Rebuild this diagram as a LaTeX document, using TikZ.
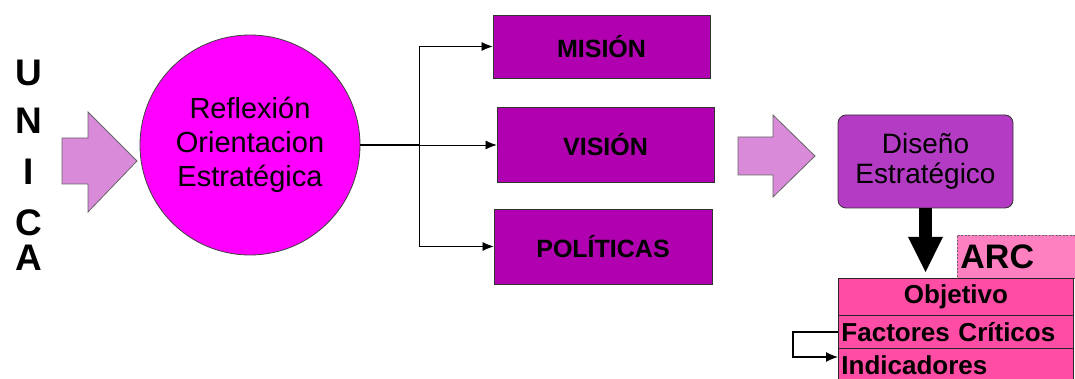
\documentclass[tikz,border=0pt]{standalone}
\usepackage{fontspec}
\setmainfont{Liberation Sans}
\usetikzlibrary{arrows.meta}
\definecolor{blockarrow}{HTML}{D98AD9}
\definecolor{circfill}{HTML}{FF00FF}
\definecolor{boxfill}{HTML}{B000B0}
\definecolor{disfill}{HTML}{B43CC4}
\definecolor{arcfill}{HTML}{FF80C0}
\definecolor{tabfill}{HTML}{FF4DA6}
\begin{document}
\begin{tikzpicture}[x=1pt,y=-1pt,
  letter/.style={font=\fontsize{37}{37}\selectfont\bfseries, inner sep=0pt},
  blockarr/.style={fill=blockarrow, draw=black!60, line width=0.8pt},
  purplebox/.style={draw=black!80, line width=0.8pt, fill=boxfill, font=\fontsize{25}{30}\selectfont\bfseries, inner sep=0pt},
  conn/.style={line width=0.7pt, -{Latex[length=11pt,width=9pt]}},
  rowbox/.style={draw=black!85, line width=0.9pt, fill=tabfill, anchor=north west, minimum width=235pt, inner xsep=3pt, inner ysep=0pt, font=\fontsize{26}{28}\selectfont\bfseries}
]
\useasboundingbox (0,0) rectangle (1075,379);
% UNICA
\node[letter] (lu) at (29,73) {U};
\node[letter] (ln) at (29,121) {N};
\node[letter] (li) at (29,172) {I};
\node[letter] (lc) at (29,223) {C};
\node[letter] (la) at (29,258) {A};
% left block arrow
\draw[blockarr] (62,138) -- (88,138) -- (88,112) -- (137,161) -- (88,212) -- (88,184) -- (62,184) -- cycle;
% circle
\node[circle, minimum size=220pt, inner sep=0pt, fill=circfill, draw=black!75, line width=0.8pt,
      align=center, font=\fontsize{29}{34}\selectfont] (refl) at (250,145)
      {Reflexión\\Orientacion\\Estratégica};
% boxes
\node[purplebox, minimum width=217pt, minimum height=63pt] (mision) at (601.5,46.5) {MISIÓN};
\node[purplebox, minimum width=217pt, minimum height=75pt] (vision) at (605.5,144.5) {VISIÓN};
\node[purplebox, minimum width=218pt, minimum height=75pt] (politicas) at (603,246.5) {POLÍTICAS};
% connectors
\coordinate (junc) at (419,145);
\draw[line width=1.3pt] (refl.east) -- (junc);
\draw[conn] (junc) -- (vision.west |- junc);
\draw[conn] (junc) |- (mision.west);
\draw[conn] (junc) |- (politicas.west);
% middle block arrow
\draw[blockarr] (738,137) -- (773,137) -- (773,115) -- (815,156) -- (773,197) -- (773,175) -- (738,175) -- cycle;
% Diseño
\node[draw=black!80, line width=0.8pt, fill=disfill, rounded corners=8pt, minimum width=175pt, minimum height=93pt,
      align=center, font=\fontsize{28}{30}\selectfont] (dis) at (925.5,161.5) {Diseño\\Estratégico};
% ARC
\node[draw=black!60, dashed, dash pattern=on 2pt off 1.5pt, line width=0.8pt, fill=arcfill, anchor=north west,
      minimum width=125pt, minimum height=43pt, text width=119pt, inner xsep=3pt, inner ysep=0pt, align=left,
      font=\fontsize{34}{36}\selectfont\bfseries] (arc) at (957,235) {ARC};
% table
\node[rowbox, minimum height=37pt, text width=229pt, align=center] (obj) at (838,278) {Objetivo};
\node[rowbox, minimum height=33pt, text width=229pt, align=left] (fact) at (838,315) {Factores Críticos};
\node[rowbox, minimum height=34pt, text width=229pt, align=left] (ind) at (838,348) {Indicadores};
% down arrow
\draw[line width=13pt, -{Triangle[length=36pt,width=32pt]}, shorten >=5pt] (dis.south) -- (dis.south |- obj.north);
% feedback
\draw[line width=1.3pt, -{Latex[length=12pt,width=10pt]}] (fact.west) -- ++(-45,0) |- ([yshift=-9pt]ind.north west);
\end{tikzpicture}
\end{document}
